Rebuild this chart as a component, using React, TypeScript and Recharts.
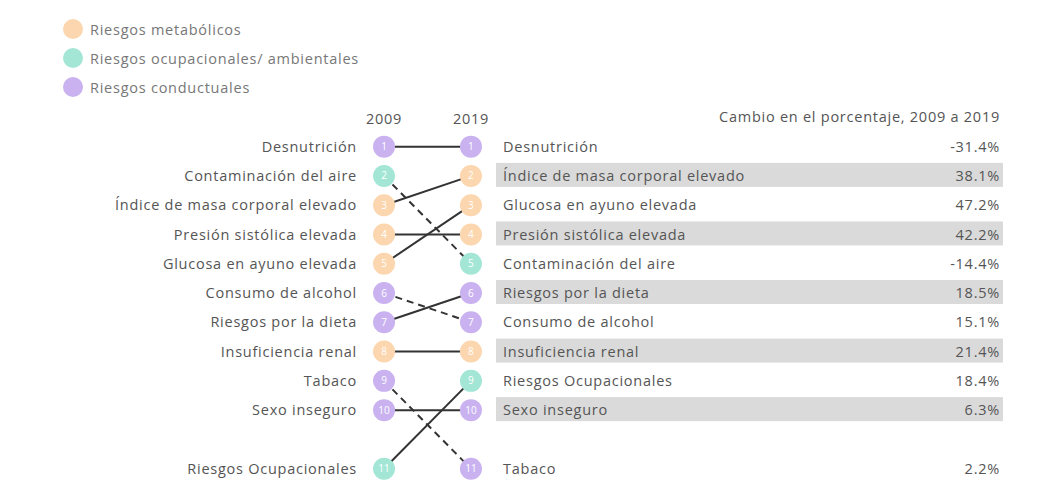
import React from "react";
import { ComposedChart, Line, Scatter, XAxis, YAxis } from "recharts";

const factors = [
  "Desnutrición",
  "Contaminación del aire",
  "Índice de masa corporal elevado",
  "Presión sistólica elevada",
  "Glucosa en ayuno elevada",
  "Consumo de alcohol",
  "Riesgos por la dieta",
  "Insuficiencia renal",
  "Tabaco",
  "Sexo inseguro",
  "Riesgos Ocupacionales",
];
const rank2009 = [1, 2, 3, 4, 5, 6, 7, 8, 9, 10, 11];
const rank2019 = [1, 5, 2, 4, 3, 7, 6, 8, 11, 10, 9];
const groups = ["con", "amb", "met", "met", "met", "con", "con", "met", "con", "con", "amb"];
const changePct = [-31.4, -14.4, 38.1, 42.2, 47.2, 15.1, 18.5, 21.4, 2.2, 6.3, 18.4];
const years = ["2009", "2019"];

const groupColors: Record<string, string> = {
  met: "#fcd6ae",
  amb: "#a3e6d6",
  con: "#c9b2ef",
};
const legendItems = [
  { key: "met", label: "Riesgos metabólicos" },
  { key: "amb", label: "Riesgos ocupacionales/ ambientales" },
  { key: "con", label: "Riesgos conductuales" },
];

// rank 11 sits one row lower, leaving a gap after the top 10
const pos = (r: number) => (r <= 10 ? r : r + 1);

const FONT = "'Open Sans', sans-serif";
const FS = 14.5;
const TXT = "#555";
const LS = 0.75;

const dots2009 = factors.map((name, i) => ({ x: 0, y: pos(rank2009[i]), rank: rank2009[i], group: groups[i] }));
const dots2019 = factors.map((name, i) => ({ x: 1, y: pos(rank2019[i]), rank: rank2019[i], group: groups[i] }));

const leftName = (p: number) => {
  const i = rank2009.findIndex((r) => pos(r) === p);
  return i >= 0 ? factors[i] : "";
};

const RankDot = (props: any) => {
  const { cx, cy, payload } = props;
  return (
    <g>
      <circle cx={cx} cy={cy} r={11} fill={groupColors[payload.group]} />
      <text x={cx} y={cy} dy="0.35em" textAnchor="middle" fontSize={10} fill="#fff" fontFamily={FONT}>
        {payload.rank}
      </text>
    </g>
  );
};

const RightTick = (props: any) => {
  const { x, y, payload } = props;
  const p = payload.value;
  const i = rank2019.findIndex((r) => pos(r) === p);
  if (i < 0) return null;
  const banded = p <= 10 && p % 2 === 0;
  const v = changePct[i];
  return (
    <g fontFamily={FONT} fontSize={FS} fill={TXT} letterSpacing={LS}>
      {banded && <rect x={x + 12} y={y - 13} width={507} height={24} fill="#dadada" />}
      <text x={x + 19} y={y} dy="0.35em">
        {factors[i]}
      </text>
      <text x={x + 516} y={y} dy="0.35em" textAnchor="end">
        {v.toFixed(1)}%
      </text>
    </g>
  );
};

const App = () => {
  const ticks2009 = rank2009.map(pos);
  const ticks2019 = [...rank2019].map(pos).sort((a, b) => a - b);
  return (
    <div style={{ position: "absolute", left: 0, top: 0, width: 1059, height: 480, background: "#fff" }}>
      <div style={{ position: "absolute", left: 0, top: 0, fontFamily: FONT, fontSize: FS, color: "#777", letterSpacing: LS }}>
        {legendItems.map((it, k) => (
          <div key={it.key} style={{ position: "absolute", left: 63, top: 18 + k * 29, height: 22, display: "flex", alignItems: "center", whiteSpace: "nowrap" }}>
            <span style={{ width: 20, height: 20, borderRadius: 10, background: groupColors[it.key], display: "inline-block" }} />
            <span style={{ marginLeft: 7 }}>{it.label}</span>
          </div>
        ))}
      </div>
      <ComposedChart width={1059} height={480} margin={{ top: 98, right: 0, bottom: 4, left: 0 }}>
        <XAxis
          type="number"
          dataKey="x"
          orientation="top"
          domain={[-0.15, 1.15]}
          ticks={[0, 1]}
          tickFormatter={(v: number) => years[v]}
          height={34}
          axisLine={false}
          tickLine={false}
          tick={{ fontSize: FS, fill: TXT, fontFamily: FONT, letterSpacing: LS }}
        />
        <YAxis
          yAxisId="l"
          type="number"
          dataKey="y"
          reversed
          domain={[0.5, 12.25]}
          ticks={ticks2009}
          interval={0}
          tickFormatter={leftName}
          width={371}
          axisLine={false}
          tickLine={false}
          tickSize={0}
          tickMargin={14}
          tick={{ fontSize: FS, fill: TXT, fontFamily: FONT, letterSpacing: LS }}
        />
        <YAxis
          yAxisId="r"
          orientation="right"
          type="number"
          dataKey="y"
          reversed
          domain={[0.5, 12.25]}
          ticks={ticks2019}
          interval={0}
          width={575}
          axisLine={false}
          tickLine={false}
          tickSize={0}
          tickMargin={0}
          tick={<RightTick />}
          label={(lp: any) => (
            <text
              x={lp.viewBox.x + 516}
              y={lp.viewBox.y - 10}
              textAnchor="end"
              fontSize={FS}
              fill={TXT}
              fontFamily={FONT}
              letterSpacing={LS}
            >
              Cambio en el porcentaje, 2009 a 2019
            </text>
          )}
        />
        {factors.map((name, i) => (
          <Line
            key={name}
            yAxisId="l"
            data={[
              { x: 0, y: pos(rank2009[i]) },
              { x: 1, y: pos(rank2019[i]) },
            ]}
            dataKey="y"
            stroke="#333"
            strokeWidth={2}
            strokeDasharray={rank2019[i] > rank2009[i] ? "7 5" : undefined}
            dot={false}
            activeDot={false}
            isAnimationActive={false}
          />
        ))}
        <Scatter yAxisId="l" data={dots2009} dataKey="y" shape={<RankDot />} isAnimationActive={false} />
        <Scatter yAxisId="r" data={dots2019} dataKey="y" shape={<RankDot />} isAnimationActive={false} />
      </ComposedChart>
    </div>
  );
};

export default App;
